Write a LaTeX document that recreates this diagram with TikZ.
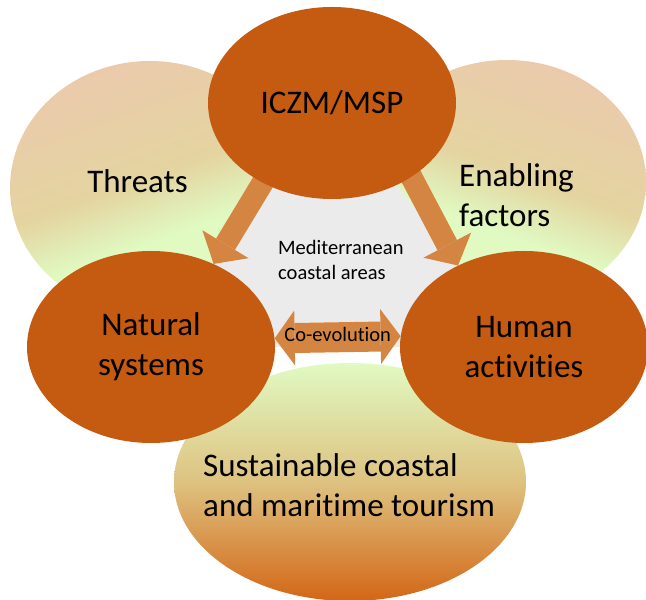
\documentclass[tikz,border=0pt]{standalone}
\usepackage{fontspec}
\setmainfont{Carlito}[Ligatures={TeX,NoCommon}]
\usepackage{tikz}
\usetikzlibrary{shapes.geometric,arrows.meta}
\pgfdeclarelayer{background}
\pgfsetlayers{background,main}

\definecolor{darkrust}{RGB}{197,90,17}
\definecolor{arrowrust}{RGB}{213,133,66}
\definecolor{paletan}{RGB}{235,202,172}
\definecolor{midtan}{RGB}{228,212,160}
\definecolor{palegreen}{RGB}{224,250,194}
\definecolor{sandtan}{RGB}{222,194,128}
\definecolor{deeporange}{RGB}{211,102,22}
\definecolor{lightgrey}{RGB}{235,235,235}

\pgfdeclareverticalshading{palefade}{100bp}{color(0bp)=(palegreen); color(25bp)=(palegreen); color(40bp)=(palegreen); color(52bp)=(midtan); color(75bp)=(paletan); color(100bp)=(paletan)}

\tikzset{
  darkblob/.style={ellipse, fill=darkrust, minimum width=248pt, minimum height=192pt, inner sep=0pt, align=center, font=\fontsize{33}{40}\selectfont},
  paleblob/.style={ellipse, inner sep=0pt, shading=palefade},
  bigtext/.style={font=\fontsize{33}{40}\selectfont, inner sep=0pt},
  smalltext/.style={font=\fontsize{20.5}{25}\selectfont, inner sep=0pt},
  blockarrow/.style={draw=arrowrust, line width=22pt, shorten <=-12pt, -{Triangle[width=54pt,length=23pt,line width=0pt]}},
  coarrow/.style={draw=arrowrust, line width=30pt, {Triangle[width=55pt,length=20pt,line width=0pt]}-{Triangle[width=55pt,length=20pt,line width=0pt]}}
}

\begin{document}
\begin{tikzpicture}[x=1pt,y=1pt]
\useasboundingbox (0,0) rectangle (646,600);
% dark circles
\node[darkblob] (iczm) at (332,497) {ICZM/MSP};
\node[darkblob] (natural) at (151,253) {Natural\\systems};
\node[darkblob] (human) at (524,253) {Human\\activities};
% texts on the pale circles
\node[bigtext, anchor=base] (threatslabel) at (137.5,407) {Threats};
\node[bigtext, anchor=west, align=left] (enablinglabel) at (459,405) {Enabling\\factors};
\node[bigtext, anchor=west, align=left] (tourismlabel) at (203,114.5) {Sustainable coastal\\and maritime tourism};
\node[smalltext, anchor=west, align=left] (medlabel) at (278,340) {Mediterranean\\coastal areas};
\begin{pgfonlayer}{background}
% pale circles
\node[paleblob, minimum width=280pt, minimum height=254pt, shading angle=20] (threats) at (150,412) {};
\node[paleblob, minimum width=278pt, minimum height=244pt, shading angle=-20] (enabling) at (507,418) {};
\node[paleblob, minimum width=352pt, minimum height=238pt, top color=palegreen, bottom color=deeporange, middle color=sandtan] (tourism) at (350,118) {};
% grey area
\fill[lightgrey] (iczm.center) -- (natural.center) -- (human.center) -- cycle;
% arrows
\draw[blockarrow] (iczm.229) -- (natural.53);
\draw[blockarrow] (iczm.317) -- (human.129.5);
\draw[coarrow] (natural.4.6) -- (human.175.4) node[midway, smalltext, yshift=3pt] (coevo) {Co-evolution};
\end{pgfonlayer}
\end{tikzpicture}
\end{document}
